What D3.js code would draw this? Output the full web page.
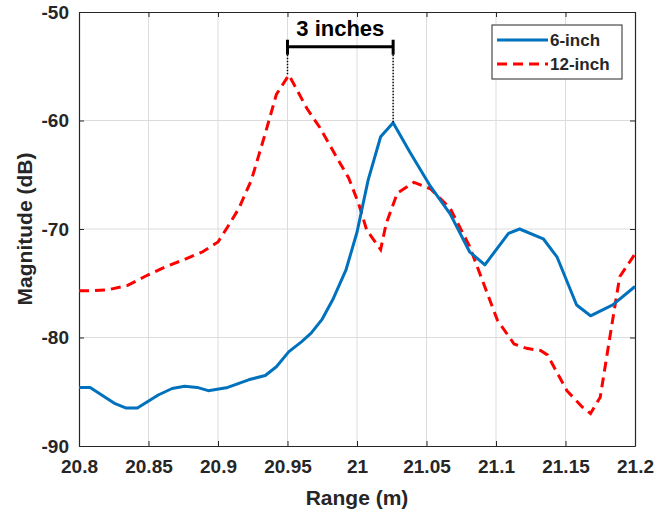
<!DOCTYPE html>
<html>
<head>
<meta charset="utf-8">
<script src="https://cdn.jsdelivr.net/npm/d3@7"></script>
<style>
  body { margin: 0; background: #fff; }
  svg { font-family: "Liberation Sans", Arial, sans-serif; }
  .axis text { font-size: 19px; font-weight: bold; fill: #262626; }
  .axis path, .axis line { stroke: #262626; }
  .grid line { stroke: #dcdcdc; stroke-width: 1; }
</style>
</head>
<body>
<svg width="657" height="514"></svg>
<script>
// 6-inch target
var range6 = [20.800, 20.808, 20.826, 20.834, 20.842, 20.857, 20.867, 20.876, 20.885, 20.893,
              20.907, 20.922, 20.934, 20.942, 20.951, 20.960, 20.967, 20.975, 20.983, 20.992,
              21.000, 21.008, 21.017, 21.026, 21.038, 21.053, 21.067, 21.081, 21.092, 21.109,
              21.117, 21.134, 21.144, 21.158, 21.168, 21.184, 21.200];
var mag6 = [-84.6, -84.6, -86.1, -86.5, -86.5, -85.3, -84.7, -84.5, -84.6, -84.9,
            -84.6, -83.9, -83.5, -82.7, -81.3, -80.4, -79.6, -78.3, -76.4, -73.8,
            -70.3, -65.5, -61.5, -60.2, -62.9, -66.1, -68.6, -72.1, -73.3, -70.4,
            -70.0, -70.9, -72.6, -77.0, -78.0, -77.0, -75.3];

// 12-inch target
var range12 = [20.800, 20.807, 20.821, 20.835, 20.847, 20.862, 20.876, 20.889, 20.900, 20.907,
               20.915, 20.924, 20.934, 20.942, 20.951, 20.964, 20.973, 20.985, 20.994, 21.001,
               21.007, 21.017, 21.021, 21.029, 21.041, 21.053, 21.067, 21.081, 21.091, 21.101,
               21.113, 21.122, 21.132, 21.137, 21.151, 21.162, 21.168, 21.175, 21.182, 21.189,
               21.200];
var mag12 = [-75.7, -75.7, -75.6, -75.2, -74.4, -73.5, -72.8, -72.1, -71.2, -69.8,
             -68.1, -65.5, -61.2, -57.6, -55.8, -58.9, -60.6, -63.3, -65.3, -67.6,
             -70.1, -71.9, -69.5, -66.7, -65.7, -66.3, -68.1, -71.6, -75.0, -78.4,
             -80.6, -81.0, -81.2, -81.6, -84.9, -86.4, -87.0, -85.5, -79.9, -74.4,
             -72.3];

var xTicks = [20.8, 20.85, 20.9, 20.95, 21, 21.05, 21.1, 21.15, 21.2];
var yTicks = [-90, -80, -70, -60, -50];
var seriesNames = ["6-inch", "12-inch"];

// "3 inches" marker between the two peaks
var markStart = 20.95, markEnd = 21.026, markLevel = -53.2, markLabel = "3 inches";

var svg = d3.select("svg"),
    margin = {top: 12, right: 22, bottom: 68, left: 79},
    width = +svg.attr("width") - margin.left - margin.right,
    height = +svg.attr("height") - margin.top - margin.bottom,
    g = svg.append("g").attr("transform", "translate(" + margin.left + "," + margin.top + ")");

var x = d3.scaleLinear().domain([20.8, 21.2]).range([0, width]);
var y = d3.scaleLinear().domain([-90, -50]).range([height, 0]);

// grid
g.append("g").attr("class", "grid")
  .selectAll("line").data(xTicks.slice(1, -1)).enter().append("line")
    .attr("x1", function(d) { return x(d); }).attr("x2", function(d) { return x(d); })
    .attr("y1", 0).attr("y2", height);
g.append("g").attr("class", "grid")
  .selectAll("line").data(yTicks.slice(1, -1)).enter().append("line")
    .attr("y1", function(d) { return y(d); }).attr("y2", function(d) { return y(d); })
    .attr("x1", 0).attr("x2", width);

// axes, ticks pointing inward like matlab
var fmt = function(d) { return String(d); };
g.append("g").attr("class", "axis axis--x")
    .attr("transform", "translate(0," + height + ")")
    .call(d3.axisBottom(x).tickValues(xTicks).tickFormat(fmt).tickSizeInner(-5).tickSizeOuter(0).tickPadding(14));
g.append("g").attr("class", "axis")
    .call(d3.axisTop(x).tickValues(xTicks).tickFormat("").tickSizeInner(-5).tickSizeOuter(0));
g.append("g").attr("class", "axis axis--y")
    .call(d3.axisLeft(y).tickValues(yTicks).tickFormat(fmt).tickSizeInner(-5).tickSizeOuter(0).tickPadding(10));
g.append("g").attr("class", "axis")
    .attr("transform", "translate(" + width + ",0)")
    .call(d3.axisRight(y).tickValues(yTicks).tickFormat("").tickSizeInner(-5).tickSizeOuter(0));

g.selectAll(".axis path").attr("stroke-width", 1.2);

// axis titles
svg.append("text")
    .attr("x", margin.left + width / 2).attr("y", 505)
    .attr("text-anchor", "middle")
    .style("font-size", "21px").style("font-weight", "bold").attr("fill", "#262626")
    .text("Range (m)");
svg.append("text")
    .attr("transform", "translate(32," + (margin.top + height / 2) + ") rotate(-90)")
    .attr("text-anchor", "middle")
    .style("font-size", "21px").style("font-weight", "bold").attr("fill", "#262626")
    .text("Magnitude (dB)");

var line = d3.line()
    .x(function(d) { return x(d[0]); })
    .y(function(d) { return y(d[1]); });

var data6 = d3.zip(range6, mag6),
    data12 = d3.zip(range12, mag12);

g.append("path").datum(data12)
    .attr("fill", "none").attr("stroke", "#ff0000").attr("stroke-width", 3)
    .attr("stroke-dasharray", "10 6")
    .attr("d", line);

g.append("path").datum(data6)
    .attr("fill", "none").attr("stroke", "#0072bd").attr("stroke-width", 3)
    .attr("stroke-linejoin", "round")
    .attr("d", line);

// marker
var peak12 = d3.max(mag12), peak6 = d3.max(mag6);
var capTop = y(markLevel) - 7, capBot = y(markLevel) + 8;
g.append("line")
    .attr("x1", x(markStart)).attr("x2", x(markStart))
    .attr("y1", capBot).attr("y2", y(peak12))
    .attr("stroke", "#000").attr("stroke-width", 1.5).attr("stroke-dasharray", "1.5 1.5");
g.append("line")
    .attr("x1", x(markEnd)).attr("x2", x(markEnd))
    .attr("y1", capBot).attr("y2", y(peak6))
    .attr("stroke", "#000").attr("stroke-width", 1.5).attr("stroke-dasharray", "1.5 1.5");
g.append("line")
    .attr("x1", x(markStart)).attr("x2", x(markEnd))
    .attr("y1", y(markLevel)).attr("y2", y(markLevel))
    .attr("stroke", "#000").attr("stroke-width", 3);
[markStart, markEnd].forEach(function(v) {
  g.append("line")
      .attr("x1", x(v)).attr("x2", x(v))
      .attr("y1", capTop).attr("y2", capBot)
      .attr("stroke", "#000").attr("stroke-width", 3);
});
g.append("text")
    .attr("x", (x(markStart) + x(markEnd)) / 2).attr("y", y(markLevel) - 11)
    .attr("text-anchor", "middle")
    .style("font-size", "22px").style("font-weight", "bold").attr("fill", "#000")
    .text(markLabel);

// legend
var lg = svg.append("g").attr("transform", "translate(492,25)");
lg.append("rect")
    .attr("width", 130).attr("height", 54)
    .attr("fill", "#fff").attr("stroke", "#262626").attr("stroke-width", 1);
var colors = ["#0072bd", "#ff0000"], dashes = [null, "10 6"];
seriesNames.forEach(function(name, i) {
  var yy = 15 + i * 24;
  lg.append("line")
      .attr("x1", 5).attr("x2", 56).attr("y1", yy).attr("y2", yy)
      .attr("stroke", colors[i]).attr("stroke-width", 3)
      .attr("stroke-dasharray", dashes[i]);
  lg.append("text")
      .attr("x", 58).attr("y", yy + 6)
      .style("font-size", "17px").style("font-weight", "bold").attr("fill", "#262626")
      .text(name);
});
</script>
</body>
</html>
